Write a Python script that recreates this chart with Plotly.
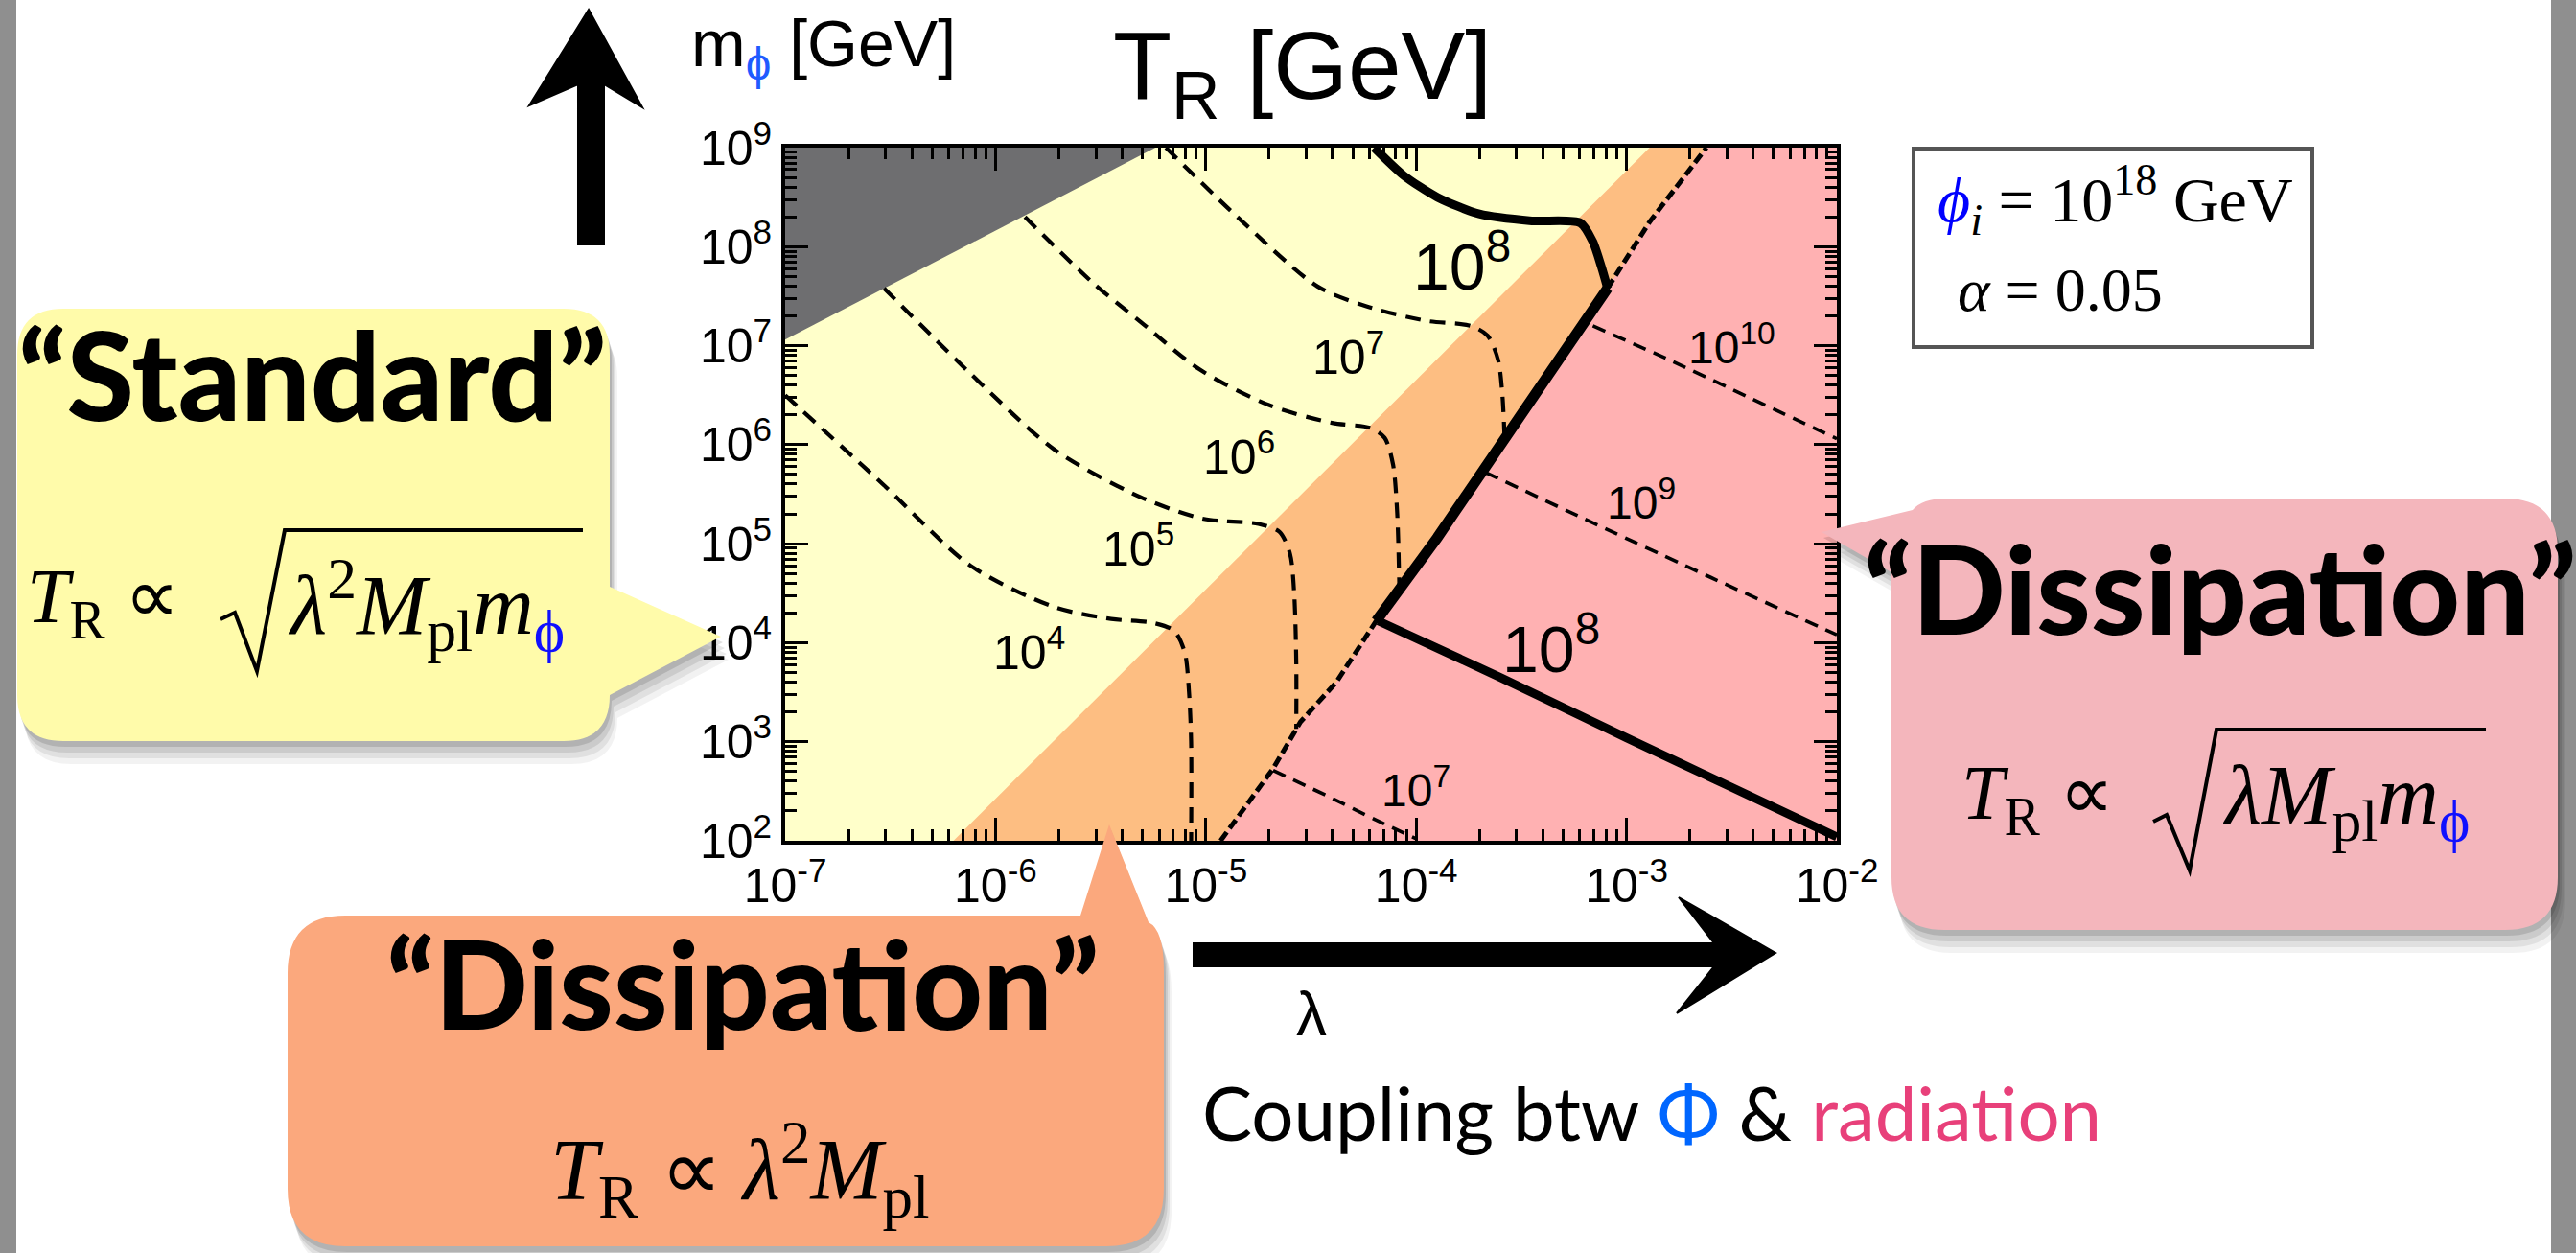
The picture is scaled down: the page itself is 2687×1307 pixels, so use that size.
import plotly.graph_objects as go

W, H = 2687, 1307

# ---------------- data (log10 lambda, log10 m_phi) ----------------
X_TICKS = [-7, -6, -5, -4, -3, -2]
X_TICK_TEXT = ["10<sup>-7</sup>", "10<sup>-6</sup>", "10<sup>-5</sup>", "10<sup>-4</sup>", "10<sup>-3</sup>", "10<sup>-2</sup>"]
Y_TICKS = [2, 3, 4, 5, 6, 7, 8, 9]
Y_TICK_TEXT = ["10<sup>2</sup>", "10<sup>3</sup>", "10<sup>4</sup>", "10<sup>5</sup>", "10<sup>6</sup>", "10<sup>7</sup>", "10<sup>8</sup>", "10<sup>9</sup>"]

# excluded region (gray)
GRAY_X = [-7.0, -7.0, -5.24]
GRAY_Y = [9.0, 7.06, 9.0]
# standard / dissipation boundary + right edge corners of the plane
ORANGE_X = [-6.2, -2.89, -2.0, -2.0]
ORANGE_Y = [2.0, 9.0, 9.0, 2.0]
# thermal dissipation boundary (jagged)
BND_X = [-4.93, -4.85, -4.68, -4.55, -4.38, -4.19, -3.90, -3.55, -3.09, -2.89, -2.62]
BND_Y = [2.0, 2.24, 2.73, 3.20, 3.60, 4.22, 5.06, 6.15, 7.58, 8.25, 9.0]
PINK_X = BND_X + [-2.0, -2.0]
PINK_Y = BND_Y + [9.0, 2.0]
THICK_X = [-4.19, -3.90, -3.55, -3.09]
THICK_Y = [4.22, 5.06, 6.15, 7.58]

# T_R contours (dashed)
T4_X = [-7.0, -6.53, -6.12, -5.72, -5.45, -5.25, -5.15, -5.10, -5.08, -5.07, -5.07]
T4_Y = [6.5, 5.59, 4.78, 4.36, 4.24, 4.20, 4.12, 3.90, 3.50, 3.00, 2.00]
T5_X = [-6.53, -6.12, -5.72, -5.31, -5.01, -4.75, -4.65, -4.60, -4.58, -4.57, -4.57]
T5_Y = [7.58, 6.72, 5.95, 5.47, 5.25, 5.20, 5.12, 4.90, 4.50, 3.80, 3.13]
T6_X = [-5.86, -5.54, -5.31, -5.03, -4.70, -4.40, -4.22, -4.15, -4.11, -4.09, -4.08]
T6_Y = [8.30, 7.64, 7.24, 6.76, 6.40, 6.22, 6.17, 6.07, 5.80, 5.30, 4.54]
T7_X = [-5.19, -4.85, -4.47, -4.24, -3.95, -3.74, -3.66, -3.61, -3.59, -3.58]
T7_Y = [9.0, 8.3, 7.6, 7.4, 7.25, 7.2, 7.1, 6.85, 6.5, 6.08]
T7P_X = [-4.68, -4.40, -4.20, -4.00]
T7P_Y = [2.71, 2.43, 2.22, 2.02]
T9_X = [-3.67, -3.20, -2.60, -2.00]
T9_Y = [5.72, 5.25, 4.66, 4.08]
T10_X = [-3.16, -2.80, -2.40, -2.00]
T10_Y = [7.20, 6.86, 6.46, 6.06]
# T_R = 1e8 (solid)
T8U_X = [-4.20, -4.06, -3.90, -3.70, -3.45, -3.22, -3.16, -3.12, -3.09]
T8U_Y = [9.0, 8.72, 8.50, 8.33, 8.26, 8.24, 8.05, 7.80, 7.58]
T8L_X = [-4.18, -3.60, -3.00, -2.50, -2.00]
T8L_Y = [4.22, 3.65, 3.04, 2.54, 2.04]

# contour labels: (text, log10 lambda, log10 m, size)
LABELS = [
    ("10<sup>4</sup>", -5.84, 3.94, 50),
    ("10<sup>5</sup>", -5.32, 4.98, 50),
    ("10<sup>6</sup>", -4.84, 5.91, 50),
    ("10<sup>7</sup>", -4.32, 6.92, 50),
    ("10<sup>8</sup>", -3.78, 7.85, 68),
    ("10<sup>8</sup>", -3.36, 3.98, 68),
    ("10<sup>10</sup>", -2.50, 7.02, 48),
    ("10<sup>9</sup>", -2.93, 5.45, 48),
    ("10<sup>7</sup>", -4.00, 2.54, 48),
]

# ---------------- colours ----------------
C_YELLOW = "#FFFFCA"
C_ORANGE = "#FDBE82"
C_PINK = "#FFB1B2"
C_GRAY = "#6E6E70"
BOX_Y = "#FFFBAA"
BOX_O = "#FBA87D"
BOX_P = "#F4B6BC"
SANS = "Liberation Sans, Arial, sans-serif"
SERIF = "Liberation Serif, Times New Roman, serif"
DISP = "Lato, Open Sans, sans-serif"


def lg(a):
    return [10 ** v for v in a]


fig = go.Figure()

# regions
fig.add_trace(go.Scatter(x=lg(ORANGE_X), y=lg(ORANGE_Y), fill="toself", fillcolor=C_ORANGE,
                         mode="lines", line=dict(width=0), hoverinfo="skip"))
fig.add_trace(go.Scatter(x=lg(PINK_X), y=lg(PINK_Y), fill="toself", fillcolor=C_PINK,
                         mode="lines", line=dict(width=0), hoverinfo="skip"))
fig.add_trace(go.Scatter(x=lg(GRAY_X), y=lg(GRAY_Y), fill="toself", fillcolor=C_GRAY,
                         mode="lines", line=dict(width=0), hoverinfo="skip"))

for xs, ys in [(T4_X, T4_Y), (T5_X, T5_Y), (T6_X, T6_Y), (T7_X, T7_Y)]:
    fig.add_trace(go.Scatter(x=lg(xs), y=lg(ys), mode="lines",
                             line=dict(color="black", width=4.2, dash="16px,10px", shape="spline", smoothing=0.8),
                             hoverinfo="skip"))
for xs, ys in [(T7P_X, T7P_Y), (T9_X, T9_Y), (T10_X, T10_Y)]:
    fig.add_trace(go.Scatter(x=lg(xs), y=lg(ys), mode="lines",
                             line=dict(color="black", width=3.6, dash="14px,9px", shape="spline", smoothing=0.6),
                             hoverinfo="skip"))
# boundary
fig.add_trace(go.Scatter(x=lg(BND_X), y=lg(BND_Y), mode="lines",
                         line=dict(color="black", width=5, dash="11px,5px"), hoverinfo="skip"))
fig.add_trace(go.Scatter(x=lg(THICK_X), y=lg(THICK_Y), mode="lines",
                         line=dict(color="black", width=11), hoverinfo="skip"))
fig.add_trace(go.Scatter(x=lg(T8U_X), y=lg(T8U_Y), mode="lines",
                         line=dict(color="black", width=9, shape="spline", smoothing=0.7), hoverinfo="skip"))
fig.add_trace(go.Scatter(x=lg(T8L_X), y=lg(T8L_Y), mode="lines",
                         line=dict(color="black", width=9, shape="spline", smoothing=0.5), hoverinfo="skip"))

annotations = []
for txt, lx, ly, sz in LABELS:
    annotations.append(dict(text=txt, x=lx, y=ly, xref="x", yref="y", showarrow=False,
                            font=dict(family=SANS, size=sz, color="black")))


# ---------------- helpers for paper (pixel) decorations ----------------
def px(x):
    return x / W


def py(y):
    return 1 - y / H


def path(cmds, dx=0, dy=0):
    out = []
    for c in cmds:
        if c[0] == "Z":
            out.append("Z")
        elif c[0] == "Q":
            out.append(f"Q{px(c[1]+dx):.5f},{py(c[2]+dy):.5f} {px(c[3]+dx):.5f},{py(c[4]+dy):.5f}")
        else:
            out.append(f"{c[0]}{px(c[1]+dx):.5f},{py(c[2]+dy):.5f}")
    return " ".join(out)


def ann(text, x, y, size, family=SANS, color="black", xanchor="center", yanchor="middle", weight=None):
    f = dict(family=family, size=size, color=color)
    if weight:
        f["weight"] = weight
    annotations.append(dict(text=text, x=px(x), y=py(y), xref="paper", yref="paper", showarrow=False,
                            xanchor=xanchor, yanchor=yanchor, font=f))


shapes = []
# gray slide borders
shapes.append(dict(type="rect", xref="paper", yref="paper", x0=0, x1=px(17), y0=0, y1=1,
                   fillcolor="#8F8F8F", line=dict(width=0), layer="above"))
shapes.append(dict(type="rect", xref="paper", yref="paper", x0=px(2661), x1=1, y0=0, y1=1,
                   fillcolor="#8F8F8F", line=dict(width=0), layer="above"))

# yellow callout
x0, y0, x1, y1, r = 18, 322, 636, 773, 48
YBOX = [("M", x0 + r, y0), ("L", x1 - r, y0), ("Q", x1, y0, x1, y0 + r), ("L", x1, 612), ("L", 752, 664),
        ("L", x1, 725), ("L", x1, y1 - r), ("Q", x1, y1, x1 - r, y1), ("L", x0 + r, y1),
        ("Q", x0, y1, x0, y1 - r), ("L", x0, y0 + r), ("Q", x0, y0, x0 + r, y0), ("Z",)]
# orange callout
x0, y0, x1, y1, r = 300, 955, 1214, 1300, 60
OBOX = [("M", x0 + r, y0), ("L", 1127, y0), ("L", 1157, 860), ("L", 1198, 962), ("Q", 1214, 970, 1214, 1012),
        ("L", x1, y1 - r), ("Q", x1, y1, x1 - r, y1), ("L", x0 + r, y1), ("Q", x0, y1, x0, y1 - r),
        ("L", x0, y0 + r), ("Q", x0, y0, x0 + r, y0), ("Z",)]
# pink callout
x0, y0, x1, y1, r = 1973, 520, 2668, 970, 55
PBOX = [("M", 2030, 520), ("L", x1 - r, y0), ("Q", x1, y0, x1, y0 + r), ("L", x1, y1 - r),
        ("Q", x1, y1, x1 - r, y1), ("L", x0 + r, y1), ("Q", x0, y1, x0, y1 - r), ("L", 1973, 597),
        ("L", 1900, 555), ("L", 1995, 532), ("Q", 2005, 520, 2030, 520), ("Z",)]

for cmds, col in [(YBOX, BOX_Y), (OBOX, BOX_O), (PBOX, BOX_P)]:
    for dx, dy, a in [(8, 24, 0.05), (6, 18, 0.07), (4, 12, 0.09), (2, 6, 0.12)]:
        shapes.append(dict(type="path", xref="paper", yref="paper", path=path(cmds, dx, dy),
                           fillcolor=f"rgba(0,0,0,{a})", line=dict(width=0), layer="above"))
    shapes.append(dict(type="path", xref="paper", yref="paper", path=path(cmds),
                       fillcolor=col, line=dict(width=0), layer="above"))

# radical signs
RAD_Y = [("M", 230, 646), ("L", 245, 639), ("L", 268, 700), ("L", 297, 553), ("L", 608, 553)]
RAD_P = [("M", 2246, 857), ("L", 2260, 850), ("L", 2284, 908), ("L", 2312, 761), ("L", 2593, 761)]
for cmds in (RAD_Y, RAD_P):
    shapes.append(dict(type="path", xref="paper", yref="paper", path=path(cmds),
                       line=dict(color="black", width=4), layer="above"))

# parameter box
shapes.append(dict(type="rect", xref="paper", yref="paper", x0=px(1996), x1=px(2412), y0=py(362), y1=py(155),
                   fillcolor="white", line=dict(color="#555555", width=4), layer="above"))

# hand-drawn style arrows
UP = [("M", 603, 255), ("L", 603, 88), ("L", 552, 110), ("L", 614, 10), ("L", 670, 112), ("L", 630, 88),
      ("L", 630, 255), ("Z",)]
RIGHT = [("M", 1245, 984), ("L", 1788, 984), ("L", 1751, 936), ("L", 1852, 994), ("L", 1749, 1057),
         ("L", 1788, 1008), ("L", 1245, 1008), ("Z",)]
for cmds in (UP, RIGHT):
    shapes.append(dict(type="path", xref="paper", yref="paper", path=path(cmds),
                       fillcolor="black", line=dict(color="black", width=2), layer="above"))

# ---------------- texts ----------------
ann("T<sub>R</sub> [GeV]", 1358, 75, 100)
ann("m<sub><span style='color:#1f5bff'>ϕ</span></sub> [GeV]", 719, 50, 68, xanchor="left")
ann("<i><span style='color:#0000ff'>ϕ</span><sub>i</sub></i> = 10<sup>18</sup> GeV", 2019, 208, 66,
    family=SERIF, xanchor="left")
ann("<i>α</i> = 0.05", 2040, 302, 64, family=SERIF, xanchor="left")

ann("“Standard”", 326, 390, 128, family=DISP, weight=900)
ann("<i>T</i><sub>R</sub> ∝", 26, 628, 80, family=SERIF, xanchor="left")
ann("<i>λ</i><sup>2</sup><i>M</i><sub>pl</sub><i>m</i><sub><span style='color:#1010ff'>ϕ</span></sub>",
    298, 630, 88, family=SERIF, xanchor="left")

ann("“Dissipation”", 775, 1024, 128, family=DISP, weight=900)
ann("<i>T</i><sub>R</sub> ∝ <i>λ</i><sup>2</sup><i>M</i><sub>pl</sub>", 772, 1220, 90, family=SERIF)

ann("“Dissipation”", 2316, 612, 128, family=DISP, weight=900)
ann("<i>T</i><sub>R</sub> ∝", 2044, 833, 80, family=SERIF, xanchor="left")
ann("<i>λM</i><sub>pl</sub><i>m</i><sub><span style='color:#1010ff'>ϕ</span></sub>",
    2316, 835, 88, family=SERIF, xanchor="left")

ann("λ", 1368, 1058, 64)
ann("Coupling btw <span style='color:#0066ff'>Φ</span> & <span style='color:#e8407a'>radiation</span>",
    1252, 1160, 78, family=DISP, xanchor="left")

# ---------------- axes ----------------
minor_x = [m * 10.0 ** e for e in range(-7, -2) for m in range(2, 10)]
minor_y = [m * 10.0 ** e for e in range(2, 9) for m in range(2, 10)]
axis_common = dict(type="log", showline=True, linecolor="black", linewidth=4, mirror="allticks",
                   ticks="inside", ticklen=24, tickwidth=3, tickcolor="black", showgrid=False,
                   zeroline=False, tickmode="array", automargin=False,
                   tickfont=dict(family=SANS, size=50, color="black"))

fig.update_layout(
    width=W, height=H, margin=dict(l=0, r=0, t=0, b=0, pad=0, autoexpand=False),
    paper_bgcolor="white", plot_bgcolor=C_YELLOW, showlegend=False, hovermode=False,
    font=dict(family=SANS, color="black"),
    xaxis=dict(axis_common, range=[-7, -2], domain=[px(819), px(1916)],
               tickvals=lg(X_TICKS), ticktext=X_TICK_TEXT, ticklabelstandoff=0,
               minor=dict(tickmode="array", tickvals=minor_x, ticks="inside", ticklen=12, tickwidth=3,
                          tickcolor="black", showgrid=False)),
    yaxis=dict(axis_common, range=[2, 9], domain=[py(877), py(154)],
               tickvals=lg(Y_TICKS), ticktext=Y_TICK_TEXT, ticklabelstandoff=0,
               minor=dict(tickmode="array", tickvals=minor_y, ticks="inside", ticklen=12, tickwidth=3,
                          tickcolor="black", showgrid=False)),
    shapes=shapes, annotations=annotations,
)

fig.write_html("out.html")
